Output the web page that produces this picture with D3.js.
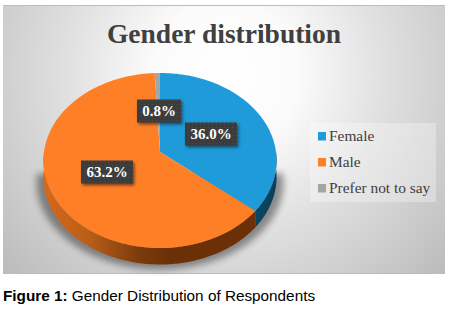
<!DOCTYPE html>
<html><head><meta charset="utf-8">
<script src="https://cdn.jsdelivr.net/npm/d3@7"></script>
<style>html,body{margin:0;padding:0;background:#fff}svg{display:block}</style>
</head><body><svg id="c" width="451" height="313"></svg>
<script>
const categories = ["Female", "Male", "Prefer not to say"];
const values = [36.0, 63.2, 0.8];
const labels = ["36.0%", "63.2%", "0.8%"];
const colors = ["#1f9bd9", "#ff7f27", "#a5a5a5"];
const sideFills = ["url(#sideBlue)", "url(#sideOrange)", "#666"];
const titleText = "Gender distribution";

const svg = d3.select("#c");
const defs = svg.append("defs");
const bg = defs.append("radialGradient").attr("id","bg").attr("gradientUnits","userSpaceOnUse")
  .attr("cx",225).attr("cy",75).attr("r",290);
[[0,"#ffffff"],[.25,"#fbfbfb"],[.55,"#e0e0e0"],[.8,"#cdcdcd"],[1,"#bdbdbd"]].forEach(([o,c])=>bg.append("stop").attr("offset",o).attr("stop-color",c));
const gr=(id,st)=>{const g=defs.append("linearGradient").attr("id",id).attr("gradientUnits","userSpaceOnUse").attr("x1",43).attr("x2",276).attr("y1",0).attr("y2",0);st.forEach(([o,c])=>g.append("stop").attr("offset",o).attr("stop-color",c));};
gr("sideOrange",[[0,"#d8681b"],[.2,"#b85e18"],[.42,"#7a3a0c"],[.55,"#6b3006"],[1,"#6b3006"]]);
gr("sideBlue",[[0,"#0c4a68"],[.85,"#0c4a68"],[1,"#0a3f5c"]]);
const blur=(id,s)=>defs.append("filter").attr("id",id).attr("x","-30%").attr("y","-30%").attr("width","160%").attr("height","160%").append("feGaussianBlur").attr("stdDeviation",s);
blur("b5",3.5); blur("b1",1.4);
const pat=defs.append("pattern").attr("id","dots").attr("width",4).attr("height",4).attr("patternUnits","userSpaceOnUse");
pat.append("rect").attr("width",4).attr("height",4).attr("fill","#3c3c3c");
pat.append("rect").attr("x",1).attr("y",1).attr("width",1).attr("height",1).attr("fill","#4d4d4d");

svg.append("rect").attr("x",3).attr("y",5).attr("width",442).attr("height",268.5).attr("fill","url(#bg)");
svg.append("path").attr("d","M3 5.5H445M3 273.5H445").attr("stroke","#bcbcbc").attr("fill","none");

svg.append("text").attr("x",224).attr("y",43).attr("text-anchor","middle")
  .attr("font-family","'Liberation Serif'").attr("font-weight","bold").attr("font-size",27.5)
  .attr("fill","#404040").text(titleText);

// pie geometry: a tilted disc in perspective
const X0=160,Y0=152,B=116,A=86.7,K=0.097,DEPTH=16.5;
const pr=(ang,r=1)=>{const u=Math.sin(ang)*r,v=-Math.cos(ang)*r,d=1-K*v;return [X0+B*u/d,Y0+A*v/d];};
const arcs=d3.pie().sort(null).value(d=>d)(values);
const range=(a,b)=>d3.range(0,101).map(i=>a+(b-a)*i/100);
const line=d3.line();

// soft shadow, lower half only
const shPts=range(Math.PI*0.5,Math.PI*1.5).map(a=>{const p=pr(a);return [p[0]+(p[0]-X0)*0.06,p[1]+DEPTH+5];});
svg.append("path").attr("d",line(shPts)+"Z").attr("fill","#000").attr("opacity",.4).attr("filter","url(#b5)");

// side walls
arcs.forEach((a,i)=>{
  const s=Math.max(a.startAngle,Math.PI*0.5),e=Math.min(a.endAngle,Math.PI*1.5);
  if(e<=s)return;
  const top=range(s,e).map(t=>pr(t));
  const bot=top.map(p=>[p[0],p[1]+DEPTH]).reverse();
  svg.append("path").attr("d",line(top.concat(bot))+"Z").attr("fill",sideFills[i]);
});
// top faces
arcs.forEach((a,i)=>{
  const pts=[[X0,Y0]].concat(range(a.startAngle,a.endAngle).map(t=>pr(t)));
  svg.append("path").attr("d",line(pts)+"Z").attr("fill",colors[i]);
});

// data labels
arcs.forEach((a,i)=>{
  const [x,y]=pr((a.startAngle+a.endAngle)/2,0.5);
  const w=labels[i].length>4?52:44,h=23;
  const g=svg.append("g").attr("transform",`translate(${Math.round(x)},${Math.round(y)})`);
  g.append("rect").attr("x",-w/2+1.5).attr("y",-h/2+2).attr("width",w).attr("height",h).attr("fill","#000").attr("opacity",.5).attr("filter","url(#b1)");
  g.append("rect").attr("x",-w/2).attr("y",-h/2).attr("width",w).attr("height",h).attr("fill","url(#dots)");
  g.append("text").attr("y",5.2).attr("text-anchor","middle").attr("font-family","'Liberation Serif'").attr("font-weight","bold").attr("font-size",15).attr("fill","#fff").text(labels[i]);
});

// legend
svg.append("rect").attr("x",310).attr("y",123).attr("width",126).attr("height",79).attr("fill","#fff").attr("opacity",.3);
const ly=d3.scalePoint().domain(categories).range([136,188]);
categories.forEach((c,i)=>{
  svg.append("rect").attr("x",318).attr("y",ly(c)-4).attr("width",8).attr("height",8.5).attr("fill",colors[i]);
  svg.append("text").attr("x",329).attr("y",ly(c)+4.5).attr("font-family","'Liberation Serif'").attr("font-size",15.4).attr("fill","#404040").text(c);
});

// caption
const cap=svg.append("text").attr("x",3).attr("y",301).attr("font-family","'Liberation Sans'").attr("font-size",15.3).attr("fill","#000");
cap.append("tspan").attr("font-weight","bold").text("Figure 1:");
cap.append("tspan").text(" Gender Distribution of Respondents");
</script></body></html>
